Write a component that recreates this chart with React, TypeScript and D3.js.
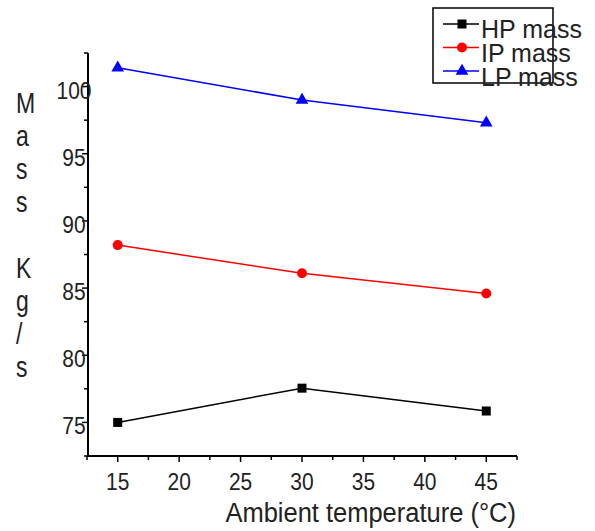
import React from "react";
import * as d3 from "d3";

// values
const temps = [15, 30, 45];
const hpMass = [75.0, 77.55, 75.85];
const ipMass = [88.2, 86.1, 84.6];
const lpMass = [101.4, 99.0, 97.3];
const xTicks = [15, 20, 25, 30, 35, 40, 45];
const yTicks = [75, 80, 85, 90, 95, 100];
const yLabelChars = ["M", "a", "s", "s", "", "K", "g", "/", "s"];
const seriesNames = ["HP mass", "IP mass", "LP mass"];

const FONT = "'Liberation Sans', Arial, sans-serif";

// text drawn a bit taller than wide, like the reference
const Tall = ({ x, y, sy, size, anchor = "start", children }: any) => (
  <text transform={`translate(${x},${y}) scale(1,${sy})`} textAnchor={anchor} fontSize={size} fill="#222">
    {children}
  </text>
);

const App = () => {
  const width = 595;
  const height = 531;

  const x = d3.scaleLinear().domain([12.5, 47.5]).range([87, 517]);
  const y = d3.scaleLinear().domain([72.5, 102.5]).range([456, 53]);

  const line = d3.line<number>()
    .x((_, i) => x(temps[i]))
    .y(d => y(d));

  const series = [
    { name: seriesNames[0], values: hpMass, color: "#000000", marker: "square" },
    { name: seriesNames[1], values: ipMass, color: "#ff0000", marker: "circle" },
    { name: seriesNames[2], values: lpMass, color: "#0000ff", marker: "triangle" },
  ];

  const marker = (kind: string, cx: number, cy: number, color: string, key: any) => {
    if (kind === "square") {
      return <rect key={key} x={cx - 4.5} y={cy - 4.5} width={9} height={9} fill={color} />;
    }
    if (kind === "circle") {
      return <circle key={key} cx={cx} cy={cy} r={5} fill={color} />;
    }
    const p = d3.symbol().type(d3.symbolTriangle).size(70)();
    return <path key={key} d={p || ""} transform={`translate(${cx},${cy})`} fill={color} />;
  };

  const minorX = d3.range(12.5, 47.6, 2.5);
  const minorY = d3.range(72.5, 102.6, 2.5);

  return (
    <svg width={width} height={height} style={{ position: "absolute", left: 0, top: 0, background: "#fff" }}
      fontFamily={FONT}>
      <rect width={width} height={height} fill="#fff" />

      {/* axes */}
      <line x1={87} x2={517} y1={y(72.5)} y2={y(72.5)} stroke="#000" strokeWidth={2} />
      <line x1={88} x2={88} y1={y(72.5)} y2={y(102.5)} stroke="#000" strokeWidth={2} />

      {minorX.map(v => {
        const major = xTicks.includes(v);
        return <line key={"xt" + v} x1={x(v)} x2={x(v)} y1={456} y2={456 + (major ? 6 : 4)}
          stroke="#000" strokeWidth={1.5} />;
      })}
      {minorY.map(v => {
        const major = yTicks.includes(v);
        return <line key={"yt" + v} x1={88} x2={88 - (major ? 6 : 4)} y1={y(v)} y2={y(v)}
          stroke="#000" strokeWidth={1.5} />;
      })}

      {xTicks.map(v => (
        <Tall key={"xl" + v} x={x(v)} y={490} sy={1.12} size={21} anchor="middle">{v}</Tall>
      ))}
      {yTicks.map(v => (
        <Tall key={"yl" + v} x={74} y={y(v) + 12} sy={1.12} size={21} anchor="middle">{v}</Tall>
      ))}

      <Tall x={516} y={522} sy={1.05} size={25.5} anchor="end">Ambient temperature (°C)</Tall>

      {yLabelChars.map((c, i) => (
        <Tall key={"yc" + i} x={16} y={113 + i * 33} sy={1.25} size={23}>{c}</Tall>
      ))}

      {/* series */}
      {series.map(s => (
        <g key={s.name}>
          <path d={line(s.values) || ""} fill="none" stroke={s.color} strokeWidth={1.5} />
          {s.values.map((v, i) => marker(s.marker, x(temps[i]), y(v), s.color, i))}
        </g>
      ))}

      {/* legend */}
      <rect x={433} y={8} width={120} height={75} fill="none" stroke="#000" strokeWidth={1.5} />
      {series.map((s, i) => {
        const ly = 24 + i * 23.5;
        return (
          <g key={"lg" + s.name}>
            <line x1={443} x2={479} y1={ly} y2={ly} stroke={s.color} strokeWidth={1.5} />
            {marker(s.marker, 462, ly, s.color, "m")}
            <Tall x={481} y={38 + i * 24} sy={1.0} size={25}>{s.name}</Tall>
          </g>
        );
      })}
    </svg>
  );
};

export default App;
